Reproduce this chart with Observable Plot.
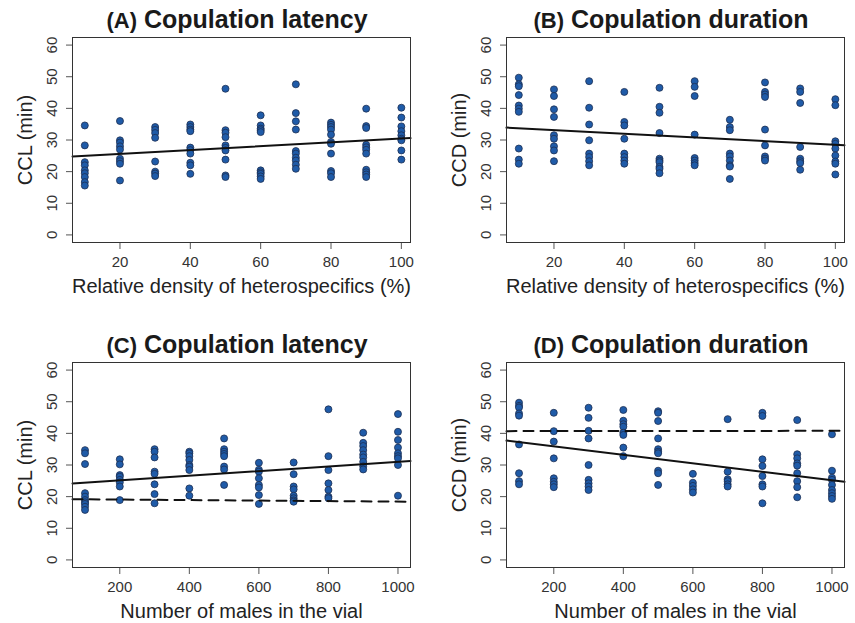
<!DOCTYPE html>
<html>
<head>
<meta charset="utf-8">
<script src="https://cdn.jsdelivr.net/npm/d3@7"></script>
<script src="https://cdn.jsdelivr.net/npm/@observablehq/plot@0.6"></script>
<style>
  html, body { margin: 0; padding: 0; background: #fff; overflow: hidden; }
  #wrap { position: relative; width: 855px; height: 623px; }
  .panel { position: absolute; width: 430px; height: 297px; }
  .panel svg { overflow: visible; max-width: none !important; width: 430px; height: 297px; }
</style>
</head>
<body>
<div id="wrap"></div>
<script>
// ---------- data ----------
const densityLevels = [10, 20, 30, 40, 50, 60, 70, 80, 90, 100];
const maleLevels = [100, 200, 300, 400, 500, 600, 700, 800, 900, 1000];
const densityTicks = [20, 40, 60, 80, 100];
const maleTicks = [200, 400, 600, 800, 1000];
const yTicks = [0, 10, 20, 30, 40, 50, 60];

// (A) CCL vs relative density
const cclDensity = [
  [34.6, 28.3, 23.0, 22.0, 20.4, 19.5, 18.3, 16.7, 15.6],
  [36.0, 29.9, 29.2, 28.0, 27.0, 24.1, 23.3, 22.5, 17.2],
  [34.1, 33.2, 32.2, 30.7, 23.2, 20.0, 19.4, 18.6],
  [34.9, 34.1, 33.3, 32.8, 27.6, 26.8, 25.7, 22.8, 22.0, 19.3],
  [46.2, 33.1, 32.3, 30.9, 28.3, 27.5, 26.7, 23.8, 18.8, 18.3],
  [37.8, 34.6, 33.6, 33.1, 32.5, 20.4, 19.8, 19.3, 18.5, 17.7],
  [47.6, 38.5, 35.9, 33.3, 26.5, 25.7, 24.4, 23.5, 22.2, 20.9],
  [35.5, 34.8, 34.1, 33.3, 31.7, 29.4, 28.8, 25.7, 20.2, 19.5, 18.3],
  [39.9, 34.4, 33.8, 28.5, 27.7, 26.9, 25.7, 20.6, 19.8, 19.1, 18.3],
  [40.2, 37.1, 34.3, 32.8, 31.5, 30.4, 29.9, 26.7, 23.8]
];
// (B) CCD vs relative density
const ccdDensity = [
  [49.7, 47.6, 47.0, 44.2, 40.9, 39.9, 38.9, 27.3, 23.8, 22.5],
  [46.0, 43.9, 39.7, 37.3, 31.5, 30.4, 28.0, 26.7, 23.3],
  [48.6, 40.2, 34.9, 29.9, 25.7, 24.6, 23.3, 22.0],
  [45.2, 35.7, 34.6, 30.4, 25.7, 24.6, 23.5, 22.5],
  [46.5, 40.5, 38.6, 32.2, 24.1, 23.5, 23.0, 21.5, 20.9, 19.5],
  [48.6, 46.8, 43.9, 31.7, 24.3, 23.5, 22.7, 22.0],
  [36.4, 34.1, 33.1, 25.7, 24.8, 23.5, 22.0, 21.6, 17.7],
  [48.2, 45.2, 44.4, 43.6, 33.3, 28.3, 24.8, 24.1, 23.5],
  [46.3, 45.2, 41.7, 27.8, 24.1, 23.3, 22.7, 20.6],
  [42.9, 41.0, 29.6, 28.8, 27.3, 25.1, 23.2, 22.5, 19.1]
];
// (C) CCL vs number of males
const cclMales = [
  [34.7, 33.7, 30.3, 21.1, 20.0, 18.9, 18.2, 17.7, 16.8, 15.8],
  [31.8, 30.2, 26.8, 26.3, 25.3, 24.5, 23.2, 18.9],
  [35.0, 34.2, 32.4, 27.9, 27.2, 23.9, 20.8, 17.9],
  [34.2, 33.7, 32.8, 31.6, 30.0, 29.5, 28.4, 22.6, 20.3],
  [38.4, 35.0, 34.2, 33.5, 32.8, 29.5, 28.6, 23.7],
  [30.7, 28.5, 27.9, 25.8, 23.7, 22.9, 20.5, 17.7],
  [30.8, 27.1, 23.2, 22.3, 20.3, 19.5, 18.8, 18.4],
  [47.6, 32.8, 28.4, 24.2, 22.1, 20.0, 19.5],
  [40.2, 37.0, 36.0, 34.7, 33.3, 32.4, 31.0, 29.6, 28.6],
  [46.1, 40.5, 37.9, 35.5, 33.7, 32.8, 32.1, 30.0, 20.3]
];
// (D) CCD vs number of males
const ccdMales = [
  [49.7, 48.7, 48.2, 46.3, 45.6, 36.5, 27.4, 24.9, 23.9],
  [46.5, 40.7, 37.4, 32.1, 25.8, 24.7, 23.9, 23.0],
  [48.1, 44.9, 40.8, 38.4, 30.0, 25.3, 24.2, 23.2, 22.1],
  [47.4, 44.0, 42.9, 42.1, 40.2, 39.5, 35.5, 32.8],
  [47.0, 46.5, 43.9, 38.4, 35.0, 34.2, 33.7, 28.2, 27.4, 23.7],
  [27.2, 24.4, 23.4, 22.3, 21.3],
  [44.5, 27.9, 25.5, 24.9, 23.9, 23.2],
  [46.5, 45.5, 31.8, 29.7, 26.5, 23.9, 23.2, 17.9],
  [44.2, 33.4, 32.1, 30.5, 29.8, 27.4, 24.9, 23.0, 19.8],
  [39.7, 28.2, 26.0, 25.3, 23.7, 22.1, 21.1, 20.2, 19.3]
];

// fitted lines: [intercept, slope]
const fitSolid = [[24.4, 0.0604], [34.3, -0.0583], [23.7, 0.00731], [38.57, -0.01339]];
const fitDashed = [null, null, [19.25, -0.00082], [40.7, 0.0001]];

const tags = ["(A)", "(B)", "(C)", "(D)"];
const titles = ["Copulation latency", "Copulation duration", "Copulation latency", "Copulation duration"];
const yLabels = ["CCL (min)", "CCD (min)", "CCL (min)", "CCD (min)"];
const xLabels = ["Relative density of heterospecifics (%)", "Relative density of heterospecifics (%)",
                 "Number of males in the vial", "Number of males in the vial"];

// ---------- drawing ----------
const FONT = "'Liberation Sans', Arial, Helvetica, sans-serif";
const W = 430, H = 297;
const M = {left: 72, right: 20, top: 37, bottom: 55};
const positions = [[0, 0], [434, 0], [0, 325], [434, 325]];
const panels = [
  {levels: densityLevels, groups: cclDensity, xDomain: [6.5, 102.6], xTicks: densityTicks},
  {levels: densityLevels, groups: ccdDensity, xDomain: [6.5, 102.6], xTicks: densityTicks},
  {levels: maleLevels, groups: cclMales, xDomain: [64, 1036], xTicks: maleTicks},
  {levels: maleLevels, groups: ccdMales, xDomain: [64, 1036], xTicks: maleTicks}
];
const wrap = document.getElementById("wrap");

panels.forEach((p, i) => {
  const pts = p.groups.flatMap((g, j) => g.map(v => ({x: p.levels[j], y: v})));
  const lineOf = f => f ? p.xDomain.map(x => ({x, y: f[0] + f[1] * x})) : [];
  const chart = Plot.plot({
    width: W, height: H,
    marginLeft: M.left, marginRight: M.right, marginTop: M.top, marginBottom: M.bottom,
    style: {fontFamily: FONT, background: "transparent", overflow: "visible"},
    x: {domain: p.xDomain},
    y: {domain: [-2.4, 62.4]},
    marks: [
      Plot.axisX({ticks: p.xTicks, tickSize: 7, tickPadding: 6.5, fontSize: 15, fill: "#333",
                  stroke: "#555", tickFormat: d => String(d), label: null}),
      Plot.axisY({ticks: yTicks, tickSize: 6, tickFormat: () => "", stroke: "#555", label: null}),
      Plot.text(yTicks, {y: d => d, text: d => String(d), frameAnchor: "left", dx: -20,
                         rotate: -90, textAnchor: "middle", lineAnchor: "middle",
                         fontSize: 15, fill: "#333"}),
      Plot.dot(pts, {x: "x", y: "y", r: 3.5, fill: "#1f5ba8", stroke: "#1d2f52", strokeWidth: 0.8}),
      Plot.line(lineOf(fitSolid[i]), {x: "x", y: "y", stroke: "#111", strokeWidth: 2}),
      Plot.line(lineOf(fitDashed[i]), {x: "x", y: "y", stroke: "#111", strokeWidth: 2,
                                       strokeDasharray: "10,7"}),
      Plot.frame({stroke: "#333", strokeWidth: 1}),
      Plot.text([xLabels[i]], {text: d => d, frameAnchor: "bottom", dy: 44.5, lineAnchor: "middle",
                               fontSize: 20, fill: "#222"}),
      Plot.text([yLabels[i]], {text: d => d, frameAnchor: "left", dx: -47, rotate: -90,
                               textAnchor: "middle", lineAnchor: "middle", fontSize: 20, fill: "#222"})
    ]
  });
  // panel title (mixed sizes via tspans)
  const t = d3.select(chart).append("text")
    .attr("x", M.left + (W - M.left - M.right) / 2 - 4)
    .attr("y", M.top - 9.5)
    .attr("text-anchor", "middle")
    .attr("font-family", FONT)
    .attr("font-weight", "bold")
    .attr("fill", "#1a1a1a");
  t.append("tspan").attr("font-size", 22).text(tags[i]);
  t.append("tspan").attr("font-size", 25).text(" " + titles[i]);

  const div = document.createElement("div");
  div.className = "panel";
  div.style.left = positions[i][0] + "px";
  div.style.top = positions[i][1] + "px";
  div.appendChild(chart);
  wrap.appendChild(div);
});
</script>
</body>
</html>
